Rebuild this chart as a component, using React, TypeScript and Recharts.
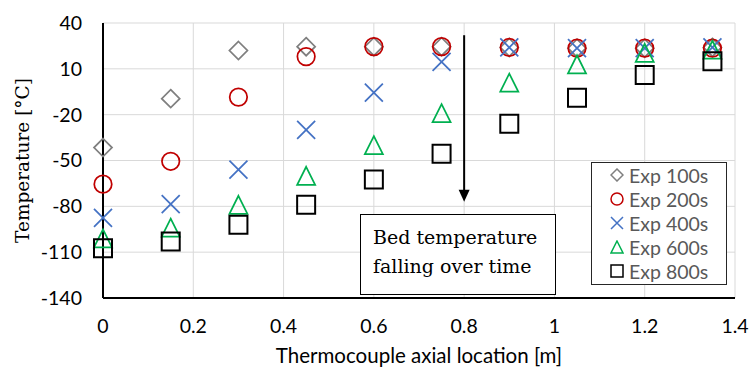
import React from "react";
import {
  ScatterChart,
  Scatter,
  XAxis,
  YAxis,
  CartesianGrid,
  Legend,
  ReferenceLine,
} from "recharts";

// thermocouple positions along the bed [m]
const positions = [0, 0.15, 0.3, 0.45, 0.6, 0.75, 0.9, 1.05, 1.2, 1.35];

// measured temperatures [°C]
const exp100 = [-41.5, -9.5, 22, 24.5, 24.5, 24.5, 24, 23.5, 23.5, 24];
const exp200 = [-65.5, -50.5, -8.5, 18, 24.5, 24.5, 24, 23.5, 23.5, 23.5];
const exp400 = [-87.5, -78.5, -56, -30, -5.5, 14.5, 24, 23.5, 23.5, 24];
const exp600 = [-101, -94, -79, -60, -40, -19, 1, 13, 20.5, 22.5];
const exp800 = [-107.5, -103, -92, -79, -62.5, -45.5, -26, -9, 6, 15];

const xTicks = [0, 0.2, 0.4, 0.6, 0.8, 1, 1.2, 1.4];
const yTicks = [-140, -110, -80, -50, -20, 10, 40];

const SANS = "Lato, 'Open Sans', sans-serif";
const SERIF = "'DejaVu Serif', serif";

type Kind = "diamond" | "circle" | "x" | "triangle" | "square";

const series: { name: string; values: number[]; kind: Kind; color: string }[] = [
  { name: "Exp 100s", values: exp100, kind: "diamond", color: "#7f7f7f" },
  { name: "Exp 200s", values: exp200, kind: "circle", color: "#c00000" },
  { name: "Exp 400s", values: exp400, kind: "x", color: "#4472c4" },
  { name: "Exp 600s", values: exp600, kind: "triangle", color: "#00b050" },
  { name: "Exp 800s", values: exp800, kind: "square", color: "#000000" },
];

const toPoints = (vals: number[]) =>
  vals.map((y, i) => ({ x: positions[i], y }));

function markerPath(kind: Kind, cx: number, cy: number, r: number) {
  switch (kind) {
    case "diamond":
      return `M${cx},${cy - r}L${cx + r},${cy}L${cx},${cy + r}L${cx - r},${cy}Z`;
    case "x":
      return `M${cx - r},${cy - r}L${cx + r},${cy + r}M${cx - r},${cy + r}L${cx + r},${cy - r}`;
    case "triangle":
      return `M${cx},${cy - r}L${cx + r},${cy + r}L${cx - r},${cy + r}Z`;
    case "square":
      return `M${cx - r},${cy - r}H${cx + r}V${cy + r}H${cx - r}Z`;
    default:
      return "";
  }
}

const Marker = ({ kind, cx, cy, color, r, sw }: any) => {
  if (cx == null || cy == null) return null;
  if (kind === "circle")
    return <circle cx={cx} cy={cy} r={r} fill="none" stroke={color} strokeWidth={sw} />;
  return (
    <path d={markerPath(kind, cx, cy, r)} fill="none" stroke={color} strokeWidth={sw} />
  );
};

const renderLegend = () => (
  <div
    style={{
      boxSizing: "border-box",
      width: 136,
      height: 123,
      border: "1.5px solid #262626",
      background: "#fff",
      fontFamily: SANS,
      fontSize: 19.5,
      color: "#595959",
    }}
  >
    {series.map((s) => (
      <div
        key={s.name}
        style={{ display: "flex", alignItems: "center", height: 24, paddingLeft: 18 }}
      >
        <svg width={14} height={14} style={{ marginRight: 5 }}>
          <Marker kind={s.kind} cx={7} cy={7} r={6} color={s.color} sw={1.5} />
        </svg>
        <span>{s.name}</span>
      </div>
    ))}
  </div>
);

// arrow drawn through the axis scales
const Arrow = (props: any) => {
  const { x1, y1, x2, y2 } = props;
  return (
    <g>
      <line x1={x1} y1={y1} x2={x2} y2={y2 - 11} stroke="#000" strokeWidth={2} />
      <path d={`M${x2 - 5.5},${y2 - 12}L${x2 + 5.5},${y2 - 12}L${x2},${y2}Z`} fill="#000" />
    </g>
  );
};

export default function App() {
  return (
    <div style={{ position: "absolute", left: 0, top: 0, width: 751, height: 369 }}>
      <ScatterChart
        width={751}
        height={369}
        margin={{ top: 23, right: 16, bottom: 0, left: 0 }}
        style={{ fontFamily: SANS }}
      >
        <CartesianGrid stroke="#d9d9d9" strokeWidth={1} />
        <XAxis
          type="number"
          dataKey="x"
          domain={[0, 1.4]}
          ticks={xTicks}
          interval={0}
          height={71}
          tickLine={false}
          tickSize={0}
          tickMargin={21}
          axisLine={{ stroke: "#000", strokeWidth: 2 }}
          tick={{ fill: "#000", fontSize: 19.5, fontFamily: SANS }}
          label={{
            value: "Thermocouple axial location [m]",
            position: "insideBottom",
            offset: 6,
            style: { fill: "#000", fontSize: 20.5, fontFamily: SANS },
          }}
        />
        <XAxis
          xAxisId="top"
          orientation="top"
          type="number"
          domain={[0, 1.4]}
          height={0}
          tick={false}
          tickLine={false}
          axisLine={{ stroke: "#333", strokeWidth: 1.5 }}
        />
        <YAxis
          type="number"
          dataKey="y"
          domain={[-140, 40]}
          ticks={yTicks}
          interval={0}
          width={103}
          tickLine={false}
          tickSize={0}
          tickMargin={21}
          axisLine={{ stroke: "#000", strokeWidth: 2 }}
          tick={{ fill: "#000", fontSize: 19.5, fontFamily: SANS }}
          label={{
            value: "Temperature [°C]",
            angle: -90,
            position: "insideLeft",
            offset: 22,
            style: { textAnchor: "middle", fill: "#000", fontSize: 18.5, fontFamily: SERIF },
          }}
        />
        <YAxis
          yAxisId="right"
          orientation="right"
          type="number"
          domain={[-140, 40]}
          width={0}
          tick={false}
          tickLine={false}
          axisLine={{ stroke: "#333", strokeWidth: 1.5 }}
        />
        <ReferenceLine
          segment={[
            { x: 0.8, y: 32 },
            { x: 0.8, y: -77 },
          ]}
          shape={Arrow}
        />
        {series.map((s) => (
          <Scatter
            key={s.name}
            name={s.name}
            data={toPoints(s.values)}
            isAnimationActive={false}
            shape={(p: any) => (
              <Marker
                kind={s.kind}
                cx={p.cx}
                cy={p.cy}
                r={s.kind === "circle" ? 8.75 : 9}
                color={s.color}
                sw={s.kind === "square" ? 2 : 1.75}
              />
            )}
          />
        ))}
        <Legend
          layout="vertical"
          align="center"
          verticalAlign="middle"
          content={renderLegend}
          wrapperStyle={{ left: 591, top: 162, width: 136, height: 123 }}
        />
      </ScatterChart>
      <div
        style={{
          position: "absolute",
          left: 360,
          top: 214,
          width: 196,
          height: 81,
          boxSizing: "border-box",
          border: "1.5px solid #000",
          background: "#fff",
          fontFamily: SERIF,
          fontSize: 19,
          lineHeight: "29px",
          padding: "8px 0 0 12px",
          color: "#000",
          whiteSpace: "nowrap",
        }}
      >
        Bed temperature
        <br />
        falling over time
      </div>
    </div>
  );
}
